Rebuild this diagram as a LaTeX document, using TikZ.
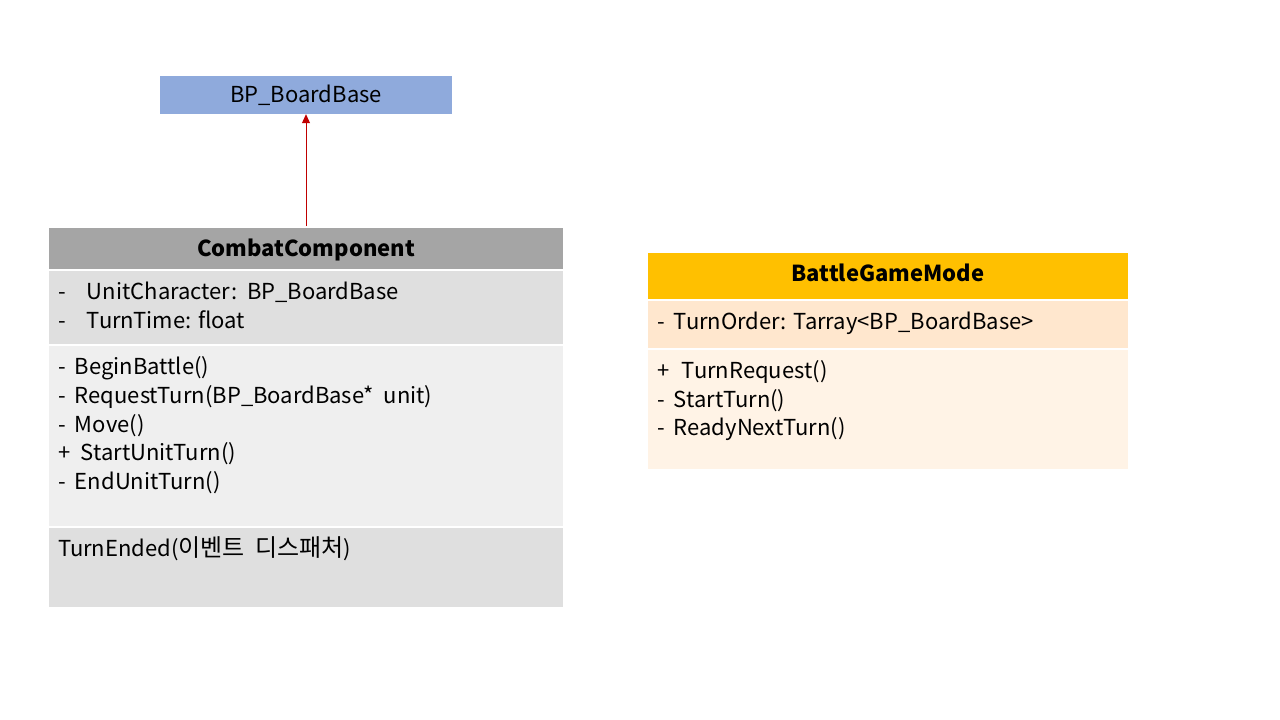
\documentclass[tikz,border=0pt]{standalone}
\usepackage{fontspec}
\setmainfont{Noto Sans CJK KR}
\usetikzlibrary{shapes,positioning,arrows.meta}

\definecolor{basefill}{HTML}{8FAADC}
\definecolor{combathead}{HTML}{A5A5A5}
\definecolor{combatattr}{HTML}{DFDFDF}
\definecolor{combatmeth}{HTML}{EFEFEF}
\definecolor{battlehead}{HTML}{FFC000}
\definecolor{battleattr}{HTML}{FFE7CE}
\definecolor{battlemeth}{HTML}{FFF3E6}
\definecolor{linkred}{HTML}{C00000}

% one compartment of a class box: [align]{width}{height}{lines}
\newcommand{\classpart}[4][\raggedright]{\parbox[t][#3][t]{#2}{#1\vspace*{8.4pt}\strut#4}}
% visibility mark (- or +) in a box of given width
\newcommand{\vismark}[2]{\makebox[#1][l]{#2}}

\begin{document}
\begin{tikzpicture}[x=1pt,y=-1pt]
\tikzstyle{every node}=[font=\fontsize{22}{28.7}\selectfont]
\tikzstyle{uml}=[
  rectangle split,
  rectangle split parts=4,
  draw=white, line width=2pt,
  inner xsep=10pt, inner ysep=0pt ]
\tikzstyle{bpclass}=[fill=basefill, minimum width=292pt, minimum height=38pt, inner sep=0pt]
\tikzstyle{inherit}=[draw=linkred, line width=1pt, -{Triangle[width=8pt,length=9pt]}]
\useasboundingbox (0,0) rectangle (1280,720);

\node[bpclass] (base) at (306,95) {BP\_BoardBase};

\node[uml, below=112pt of base,
  rectangle split part fill={combathead,combatattr,combatmeth,combatattr}] (combat) {%
  \classpart[\centering\bfseries]{496pt}{40.8pt}{CombatComponent}%
  \nodepart{two}\classpart{496pt}{73.2pt}{%
    \vismark{29pt}{-}UnitCharacter:\ \ BP\_BoardBase\\
    \vismark{29pt}{-}TurnTime: float}%
  \nodepart{three}\classpart{496pt}{180.2pt}{%
    \vismark{17pt}{-}BeginBattle()\\
    \vismark{17pt}{-}RequestTurn(BP\_BoardBase*\ \ unit)\\
    \vismark{17pt}{-}Move()\\
    \vismark{23pt}{+}StartUnitTurn()\\
    \vismark{17pt}{-}EndUnitTurn()}%
  \nodepart{four}\classpart{496pt}{78.8pt}{%
    TurnEnded({\fontsize{24}{28.7}\selectfont 이벤트\ \ 디스패처})}%
};

\node[uml, rectangle split parts=3, anchor=north,
  rectangle split part fill={battlehead,battleattr,battlemeth}] (battle) at (888,251) {%
  \classpart[\centering\bfseries]{462pt}{45.8pt}{BattleGameMode}%
  \nodepart{two}\classpart{462pt}{47.2pt}{\vismark{17pt}{-}TurnOrder: Tarray<BP\_BoardBase>}%
  \nodepart{three}\classpart{462pt}{118.8pt}{%
    \vismark{25pt}{+}TurnRequest()\\
    \vismark{17pt}{-}StartTurn()\\
    \vismark{17pt}{-}ReadyNextTurn()}%
};

\draw[inherit] (combat.north) -- (base.south);
\end{tikzpicture}
\end{document}
